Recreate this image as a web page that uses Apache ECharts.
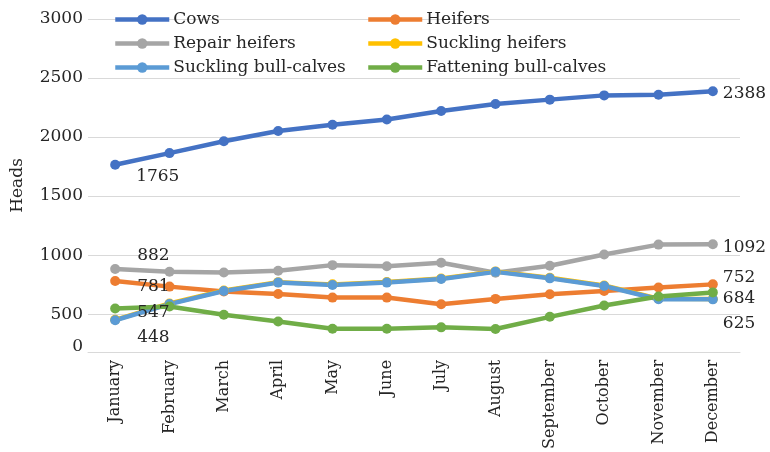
<!DOCTYPE html>
<html>
<head>
<meta charset="utf-8">
<script src="https://cdn.jsdelivr.net/npm/echarts@6/dist/echarts.min.js"></script>
<style>
html,body{margin:0;padding:0;background:#fff;}
#chart{width:770px;height:452px;}
</style>
</head>
<body>
<div id="chart"></div>
<script>
var months = ['January','February','March','April','May','June','July','August','September','October','November','December'];
var cows = [1765, 1864, 1965, 2051, 2104, 2149, 2220, 2280, 2317, 2353, 2358, 2388];
var heifers = [781, 733, 691, 671, 640, 640, 584, 629, 668, 696, 725, 752];
var repairHeifers = [882, 859, 853, 868, 915, 906, 935, 851, 910, 1005, 1089, 1092];
var sucklingHeifers = [452, 590, 700, 771, 752, 772, 802, 862, 808, 742, 630, 628];
var sucklingBullCalves = [448, 585, 696, 767, 747, 767, 797, 858, 803, 738, 626, 625];
var fatteningBullCalves = [547, 565, 494, 438, 376, 376, 388, 374, 477, 573, 649, 684];
var yLabelValues = [225, 500, 1000, 1500, 2000, 2500, 3000];
var yLabelTexts = ['0', '500', '1000', '1500', '2000', '2500', '3000'];
var yGridValues = [500, 1000, 1500, 2000, 2500, 3000];

var FONT = 'DejaVu Serif';
var TXT = '#262626';

function withEndLabels(values, firstOffset, lastOffset) {
  return values.map(function (v, i) {
    if (i === 0 && firstOffset) {
      return { value: v, label: { show: true, position: 'right', offset: firstOffset } };
    }
    if (i === values.length - 1 && lastOffset) {
      return { value: v, label: { show: true, position: 'right', offset: lastOffset } };
    }
    return v;
  });
}

function mkSeries(name, values, color, firstOffset, lastOffset) {
  return {
    name: name,
    type: 'line',
    data: withEndLabels(values, firstOffset, lastOffset),
    symbol: 'circle',
    symbolSize: 10,
    lineStyle: { width: 4.5, color: color },
    itemStyle: { color: color },
    label: { show: false, fontFamily: FONT, fontSize: 17, color: TXT, formatter: '{c}' },
    emphasis: { disabled: true },
    animation: false
  };
}

var chart = echarts.init(document.getElementById('chart'), null, { renderer: 'canvas' });
chart.setOption({
  backgroundColor: '#ffffff',
  textStyle: { fontFamily: FONT },
  grid: { left: 88, right: 30, top: 19, bottom: 98 },
  legend: [
    {
      left: 113, top: 11, orient: 'vertical', padding: 0, itemGap: 7,
      itemWidth: 54, itemHeight: 13,
      lineStyle: { width: 4.5 },
      textStyle: { fontFamily: FONT, fontSize: 17, color: TXT, padding: [2, 0, 0, -1] },
      data: ['Cows', 'Repair heifers', 'Suckling bull-calves'],
      selectedMode: false
    },
    {
      left: 366, top: 11, orient: 'vertical', padding: 0, itemGap: 7,
      itemWidth: 54, itemHeight: 13,
      lineStyle: { width: 4.5 },
      textStyle: { fontFamily: FONT, fontSize: 17, color: TXT, padding: [2, 0, 0, -1] },
      data: ['Heifers', 'Suckling heifers', 'Fattening bull-calves'],
      selectedMode: false
    }
  ],
  xAxis: {
    type: 'category',
    data: months,
    boundaryGap: true,
    axisLine: { lineStyle: { color: '#d9d9d9', width: 1 } },
    axisTick: { show: false },
    axisLabel: { rotate: 90, interval: 0, margin: 8, fontFamily: FONT, fontSize: 16, color: TXT }
  },
  yAxis: {
    type: 'value',
    min: 180,
    max: 3000,
    name: 'Heads',
    nameLocation: 'middle',
    nameGap: 62,
    nameTextStyle: { fontFamily: FONT, fontSize: 17, color: TXT },
    axisLine: { show: false },
    axisTick: { show: false, customValues: yGridValues },
    splitLine: { show: true, lineStyle: { color: '#d9d9d9', width: 1 } },
    axisLabel: {
      customValues: yLabelValues,
      margin: 5,
      padding: [6, 0, 0, 0],
      fontFamily: FONT, fontSize: 17, color: TXT,
      formatter: function (v) {
        var i = yLabelValues.indexOf(v);
        return i >= 0 ? yLabelTexts[i] : '';
      }
    }
  },
  series: [
    mkSeries('Cows', cows, '#4472C4', [11, 12], [0, 2]),
    mkSeries('Heifers', heifers, '#ED7D31', [12, 6], [0, -7]),
    mkSeries('Repair heifers', repairHeifers, '#A5A5A5', [12, -13], [0, 3]),
    mkSeries('Suckling heifers', sucklingHeifers, '#FFC000', null, null),
    mkSeries('Suckling bull-calves', sucklingBullCalves, '#5B9BD5', [12, 17], [0, 24]),
    mkSeries('Fattening bull-calves', fatteningBullCalves, '#70AD47', [12, 4], [0, 6])
  ]
});
</script>
</body>
</html>
